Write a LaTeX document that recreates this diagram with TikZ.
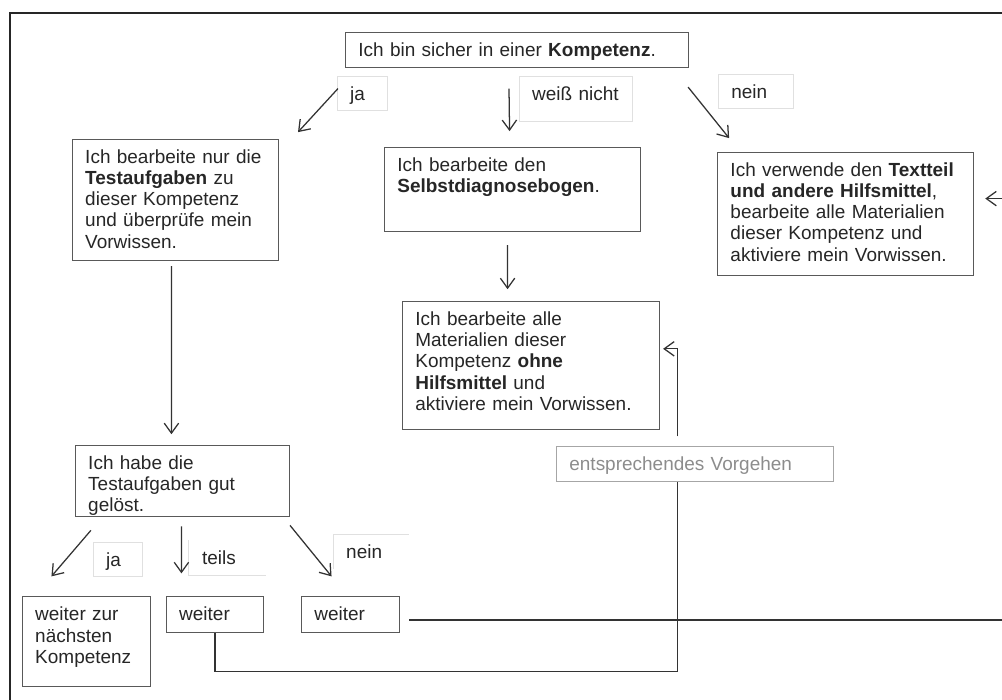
\documentclass[tikz,border=0pt]{standalone}
\usepackage{fontspec}
\setmainfont{Liberation Sans}
\usepackage{tikz}
\usetikzlibrary{positioning,arrows.meta}

\begin{document}
\begin{tikzpicture}[node distance=0.5cm, auto,
    >={Straight Barb[length=2.5mm,width=3.6mm]},
    every node/.style={font=\fontsize{13.5}{15}\selectfont, text=black!85},
    box/.style={draw=black!65, line width=0.8pt, align=left,
        inner xsep=0.32cm, inner ysep=0.15cm, text height=0.45cm},
    etikett/.style={box, draw=black!12, line width=0.6pt},
    linie/.style={draw=black!80, line width=0.9pt}]
    \useasboundingbox (0,0) rectangle (25.05,-17.5);

    % Rahmen
    \draw[black!85, line width=1.4pt] (25.05,-0.325) -- (0.25,-0.325) -- (0.25,-17.5);

    % Hauptknoten
    \node[box, anchor=north west, text width=7.935cm, text depth=0.125cm] (frage) at (8.625,-0.8) {Ich bin sicher in einer \textbf{Kompetenz}.};

    % Beschriftungen oben
    \node[etikett, below right=0.2cm and -0.2cm of frage.south west, text width=0.61cm, text depth=0.1cm] (jaOben) {ja};
    \node[etikett, below right=0.2cm and 4.35cm of frage.south west, text width=2.185cm, text depth=0.375cm] (weissNicht) {weiß nicht};
    \node[etikett, below right=0.15cm and 0.725cm of frage.south east, text width=1.235cm, text depth=0.1cm] (neinOben) {nein};

    % Drei Wege
    \node[box, below left=1.775cm and 1.65cm of frage, text width=4.51cm, text depth=2.275cm] (testAufgaben) {Ich bearbeite nur die\\ \textbf{Testaufgaben} zu\\ dieser Kompetenz\\ und überprüfe mein\\ Vorwissen.};
    \node[box, below right=1.975cm and 0.975cm of frage.south west, text width=5.76cm, text depth=1.35cm] (selbstDiagnose) {Ich bearbeite den\\ \textbf{Selbstdiagnosebogen}.};
    \node[box, below right=2.1cm and 0.7cm of frage, text width=5.76cm, text depth=2.325cm] (hilfsMittel) {Ich verwende den \textbf{Textteil}\\ \textbf{und andere Hilfsmittel},\\ bearbeite alle Materialien\\ dieser Kompetenz und\\ aktiviere mein Vorwissen.};
    \node[box, below right=1.725cm and 0.45cm of selbstDiagnose.south west, text width=5.785cm, text depth=2.45cm] (ohneHilfe) {Ich bearbeite alle\\ Materialien dieser\\ Kompetenz \textbf{ohne}\\ \textbf{Hilfsmittel} und\\ aktiviere mein Vorwissen.};
    \node[box, draw=black!35, text=black!45, below right=0.4cm and 3.85cm of ohneHilfe.south west, text width=6.285cm, text depth=0.125cm] (vorgehen) {entsprechendes Vorgehen};

    % Testaufgaben auswerten
    \node[box, below right=4.6cm and 0.075cm of testAufgaben.south west, text width=4.71cm, text depth=1.025cm] (geloest) {Ich habe die\\ Testaufgaben gut\\ gelöst.};
    \node[etikett, below right=0.625cm and 0.45cm of geloest.south west, text width=0.585cm, text depth=0.1cm] (jaUnten) {ja};
    \node[etikett, draw=none, below right=0.575cm and 2.85cm of geloest.south west, text width=1.26cm, text depth=0.1cm] (teils) {teils};
    \node[etikett, draw=none, below right=0.425cm and 1.075cm of geloest.south east, text width=1.235cm, text depth=0.1cm] (neinUnten) {nein};
    \draw[black!12, line width=0.6pt] (teils.north west) |- (teils.south east);
    \draw[black!12, line width=0.6pt] (neinUnten.south west) |- (neinUnten.north east);

    % Boxen unten
    \node[box, below right=1.975cm and -1.325cm of geloest.south west, text width=2.56cm, text depth=1.5cm] (naechste) {weiter zur\\ nächsten\\ Kompetenz};
    \node[box, below right=1.975cm and 2.275cm of geloest.south west, text width=1.785cm, text depth=0.15cm] (weiterTeils) {weiter};
    \node[box, right=0.925cm of weiterTeils, text width=1.81cm, text depth=0.15cm] (weiterNein) {weiter};

    % Randpunkte
    \coordinate (randOben) at ([xshift=0.75cm,yshift=0.39cm]hilfsMittel.east);
    \coordinate (randUnten) at ([xshift=0.7cm,yshift=-2.65cm]hilfsMittel.south east);

    % Verbindungslinien
    \draw[linie, ->] ([xshift=0.025cm,yshift=0.125cm]jaOben.west) -- ([xshift=0.475cm,yshift=0.175cm]testAufgaben.north east);
    \draw[linie, ->] ([xshift=-0.25cm,yshift=0.26cm]weissNicht.west) -- ([xshift=-0.075cm,yshift=0.4cm]selbstDiagnose.north);
    \draw[linie, ->] ([xshift=-0.025cm,yshift=-0.475cm]frage.south east) -- ([xshift=0.3cm,yshift=0.35cm]hilfsMittel.north west);
    \draw[linie, ->] (randOben) -- ([xshift=0.275cm,yshift=0.39cm]hilfsMittel.east);
    \draw[linie, ->] ([xshift=-0.125cm,yshift=-0.325cm]selbstDiagnose.south) -- ([xshift=-0.5875cm,yshift=0.3cm]ohneHilfe.north);
    \draw[linie, ->] ([xshift=-0.4375cm,yshift=0.25cm]vorgehen.north) |- ([xshift=0.075cm,yshift=0.425cm]ohneHilfe.east);
    \draw[linie, ->] ([xshift=-0.1cm,yshift=-0.125cm]testAufgaben.south) -- ([xshift=-0.275cm,yshift=0.275cm]geloest.north);
    \draw[linie, ->] ([xshift=0.4cm,yshift=-0.325cm]geloest.south west) -- ([xshift=-0.875cm,yshift=0.5cm]naechste.north);
    \draw[linie, ->] ([xshift=-0.025cm,yshift=-0.225cm]geloest.south) -- ([xshift=-0.8375cm,yshift=0.575cm]weiterTeils.north);
    \draw[linie, ->] ([yshift=-0.2cm]geloest.south east) -- ([xshift=-0.475cm,yshift=0.5cm]weiterNein.north);
    \draw[linie] (weiterTeils.south) |- ([xshift=-0.4375cm,yshift=-4.725cm]vorgehen.south) -- ([xshift=-0.4375cm]vorgehen.south);
    \draw[linie] ([xshift=0.225cm,yshift=-0.125cm]weiterNein.east) -| (randUnten);
\end{tikzpicture}
\end{document}
